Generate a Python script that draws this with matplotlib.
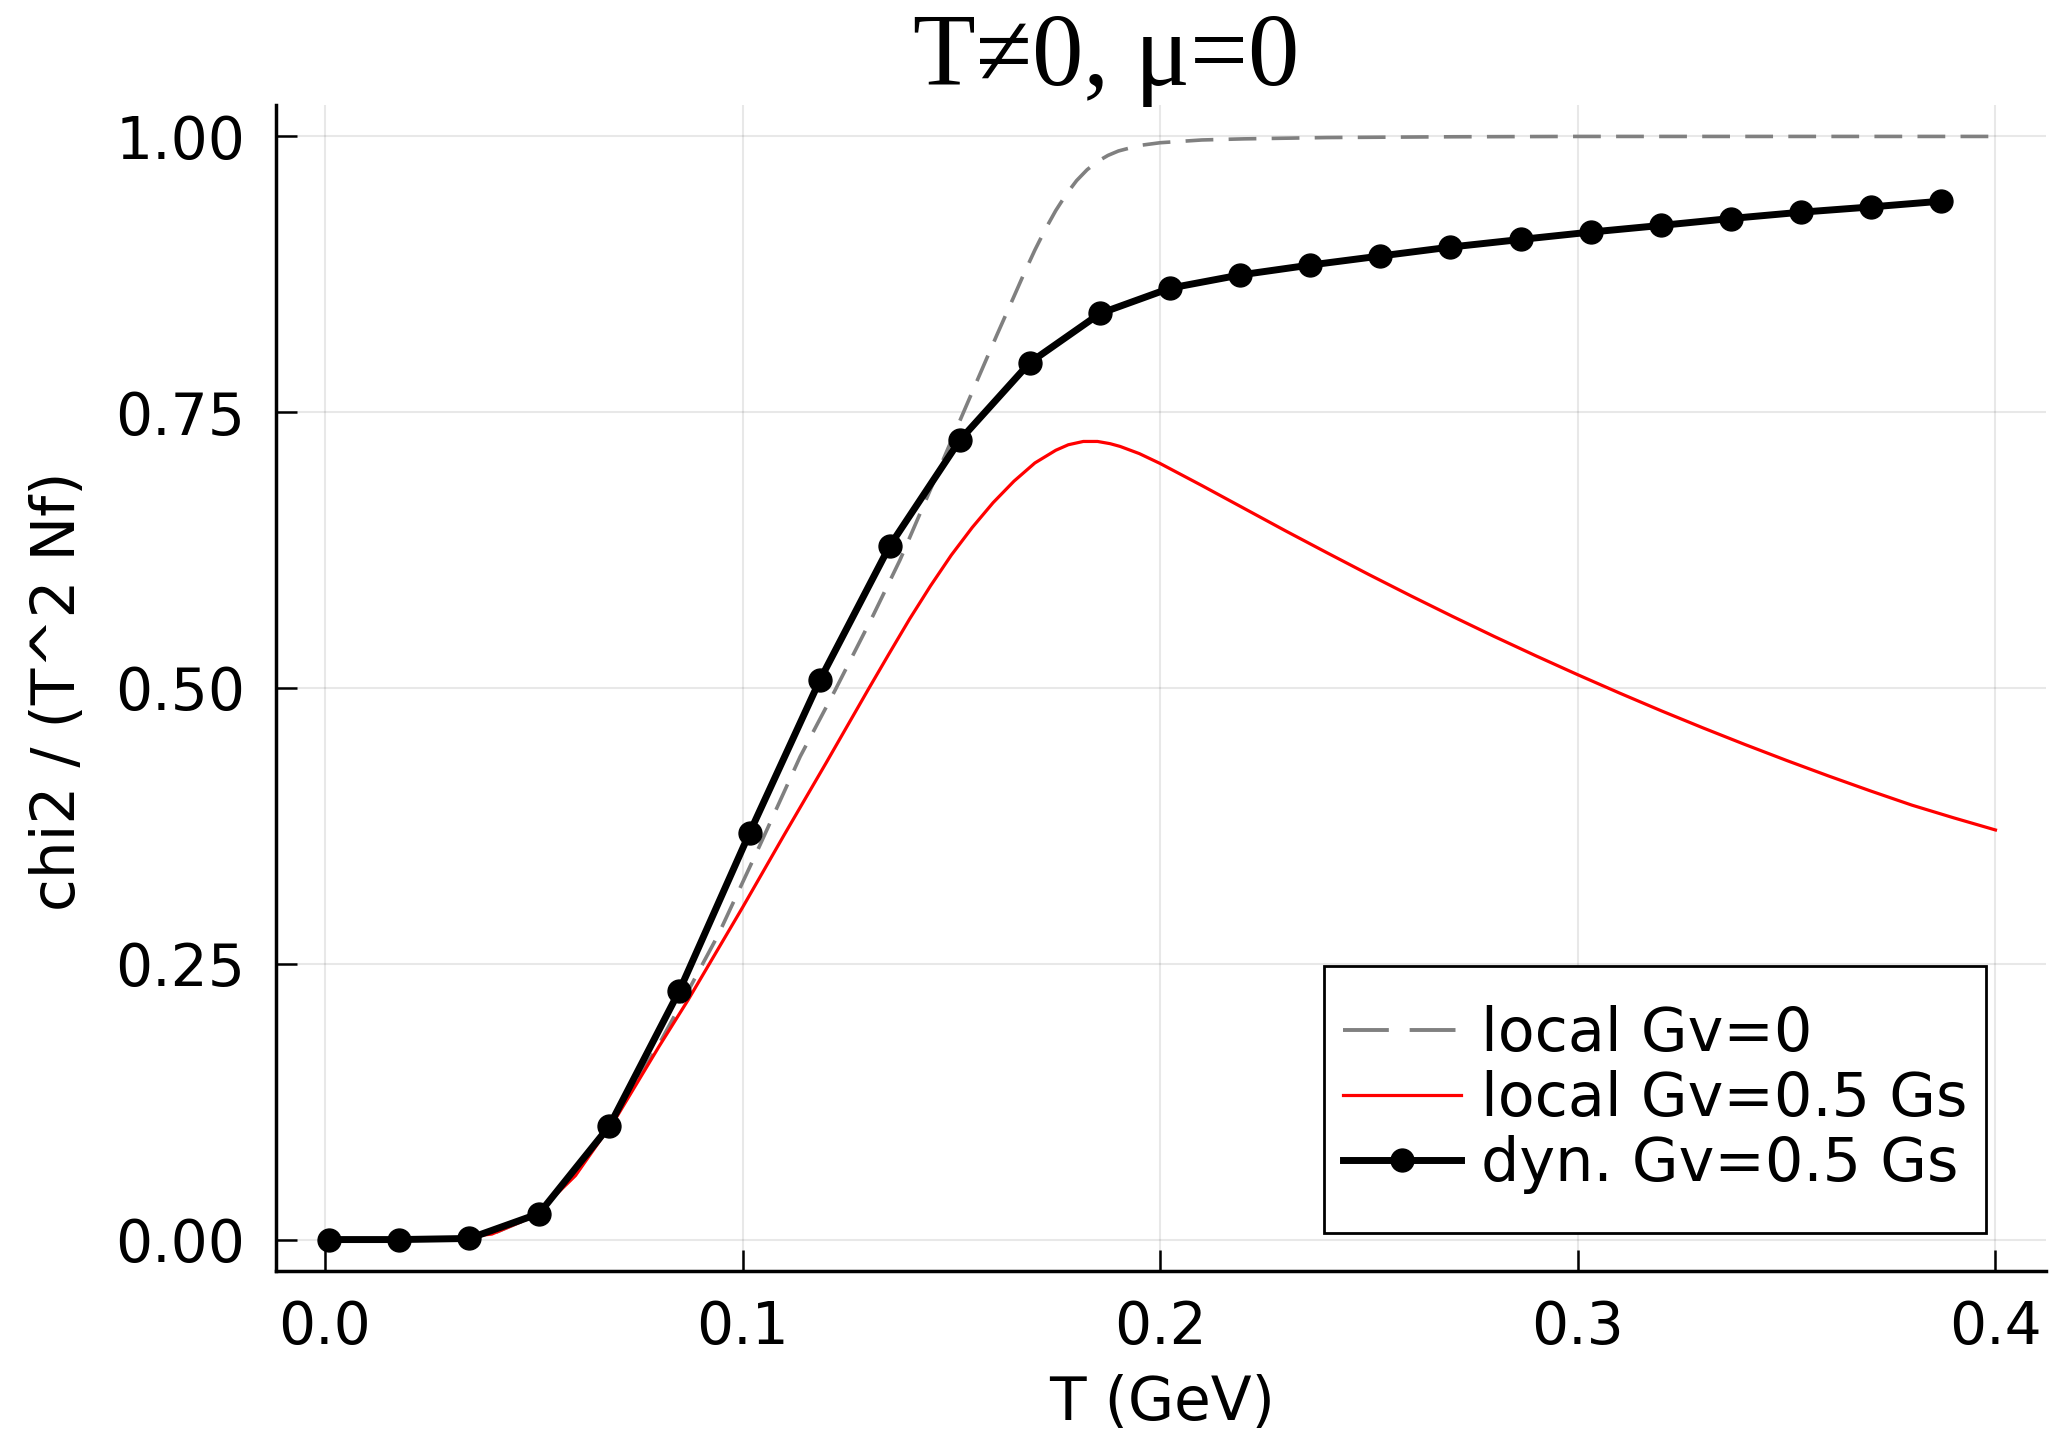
import matplotlib
matplotlib.use("Agg")
import matplotlib.pyplot as plt
from matplotlib.patches import Rectangle
from matplotlib.lines import Line2D

# ---------------- data ----------------
T_dyn = [0.001, 0.0178, 0.0346, 0.0513, 0.0681, 0.0849, 0.1017, 0.1185,
         0.1352, 0.1520, 0.1688, 0.1856, 0.2024, 0.2191, 0.2359, 0.2527,
         0.2695, 0.2863, 0.3031, 0.3198, 0.3366, 0.3534, 0.3702, 0.3870]
chi_dyn = [0.0, 0.0, 0.001, 0.0236, 0.1028, 0.2257, 0.3687, 0.507,
           0.6285, 0.7245, 0.795, 0.8395, 0.8625, 0.8744, 0.8834, 0.8916,
           0.8997, 0.9066, 0.9133, 0.9193, 0.9256, 0.9313, 0.9361, 0.9413]

T_red = [0.0, 0.01, 0.02, 0.03, 0.04, 0.05, 0.06, 0.07, 0.08, 0.087,
         0.1, 0.11, 0.12, 0.125, 0.13, 0.135, 0.14, 0.145, 0.15, 0.155,
         0.16, 0.165, 0.17, 0.175, 0.178, 0.1816, 0.185, 0.188, 0.1904,
         0.195, 0.2, 0.21, 0.22, 0.23, 0.24, 0.25, 0.26, 0.27, 0.28, 0.29,
         0.30, 0.31, 0.32, 0.33, 0.34, 0.35, 0.36, 0.37, 0.38, 0.39, 0.40]
chi_red = [0.0, 0.0, 0.0, 0.0005, 0.005, 0.021, 0.058, 0.112, 0.175, 0.2174,
           0.301, 0.367, 0.432, 0.465, 0.498, 0.5305, 0.5625, 0.5925, 0.6205,
           0.6455, 0.668, 0.6875, 0.704, 0.7155, 0.7205, 0.7235, 0.7235,
           0.7215, 0.719, 0.7125, 0.7035, 0.6835, 0.663, 0.6425, 0.6225,
           0.6028, 0.5836, 0.5649, 0.5467, 0.5291, 0.512, 0.4954, 0.4793,
           0.4638, 0.4488, 0.4343, 0.4203, 0.4068, 0.3938, 0.3823, 0.3713]

T_gray = [0.0, 0.01, 0.02, 0.03, 0.04, 0.05, 0.06, 0.07, 0.08, 0.0867,
          0.0942, 0.1042, 0.1138, 0.1222, 0.1313, 0.1377, 0.145, 0.1521,
          0.1569, 0.1609, 0.165, 0.1675, 0.17, 0.1725, 0.175, 0.1775, 0.18,
          0.1825, 0.185, 0.1875, 0.19, 0.195, 0.2, 0.21, 0.22, 0.24, 0.27,
          0.3, 0.35, 0.4]
chi_gray = [0.0, 0.0, 0.0, 0.0005, 0.005, 0.021, 0.059, 0.115, 0.177, 0.2234,
            0.2763, 0.3578, 0.4378, 0.4982, 0.566, 0.616, 0.68, 0.7428,
            0.785, 0.82, 0.855, 0.8765, 0.897, 0.9158, 0.9328, 0.9475, 0.96,
            0.9698, 0.9773, 0.9828, 0.9868, 0.9918, 0.9943, 0.9968, 0.9978,
            0.999, 0.9997, 1.0, 1.0, 1.0]

labels = ["local Gv=0", "local Gv=0.5 Gs", "dyn. Gv=0.5 Gs"]
xticks = [0.0, 0.1, 0.2, 0.3, 0.4]
yticks = [0.0, 0.25, 0.5, 0.75, 1.0]
title = "T\u22600, \u03bc=0"
xlabel = "T (GeV)"
ylabel = "chi2 / (T^2 Nf)"

# ---------------- figure ----------------
plt.rcParams['font.family'] = ['DejaVu Sans']
plt.rcParams['lines.scale_dashes'] = False

W, H = 2053, 1435
fig = plt.figure(figsize=(W / 100, H / 100), dpi=100)
L, R, B, Tp = 276, 2046, 1271, 105
ax = fig.add_axes([L / W, 1 - B / H, (R - L) / W, (B - Tp) / H])

ax.plot(T_gray, chi_gray, color="#808080", lw=2.6, dashes=(20, 11),
        zorder=3)
l_red, = ax.plot(T_red, chi_red, color="red", lw=2.3, zorder=4)
l_dyn, = ax.plot(T_dyn, chi_dyn, color="black", lw=5.0, marker="o", ms=16.5,
                 zorder=5)
gray_handle = Line2D([], [], color="#808080", lw=2.8, dashes=(33, 15))

ax.set_xlim(-0.0117, 0.4121)
ax.set_ylim(-0.0285, 1.0285)
ax.set_xticks(xticks)
ax.set_xticklabels(["0.0", "0.1", "0.2", "0.3", "0.4"])
ax.set_yticks(yticks)
ax.set_yticklabels(["0.00", "0.25", "0.50", "0.75", "1.00"])

ax.grid(True, color="black", alpha=0.09, lw=1.5)
ax.set_axisbelow(True)
for s in ["top", "right"]:
    ax.spines[s].set_visible(False)
for s in ["left", "bottom"]:
    ax.spines[s].set_linewidth(2.5)
    ax.spines[s].set_color("black")

ax.tick_params(axis="both", direction="in", length=15, width=1.8,
               labelsize=42, colors="black")
ax.tick_params(axis="x", pad=20)
ax.tick_params(axis="y", pad=22)

# legend: entries centred in a separately drawn square frame
leg = ax.legend([gray_handle, l_red, l_dyn], labels,
                loc="center", bbox_to_anchor=(0.7791, 0.1467),
                borderaxespad=0, fontsize=43.5, frameon=False,
                handlelength=1.95, handletextpad=0.33, labelspacing=0.1,
                borderpad=0, numpoints=1)
leg.set_zorder(7)
frame = Rectangle((0.5919, 0.0322), 0.9662 - 0.5919, 0.2613 - 0.0322,
                  transform=ax.transAxes, facecolor="white",
                  edgecolor="black", lw=2.0, zorder=6)
ax.add_patch(frame)

fig.text(1162 / W, 1 - 1403 / H, xlabel, ha="center", va="center", fontsize=43)
fig.text(59 / W, 1 - 691 / H, ylabel, ha="center", va="center", fontsize=43,
         rotation=90)
fig.text(1106 / W, 1 - 85 / H, title, ha="center", va="baseline", fontsize=74,
         family=["Liberation Serif", "DejaVu Serif"])

fig.savefig("out.png", dpi=100, facecolor="white")
